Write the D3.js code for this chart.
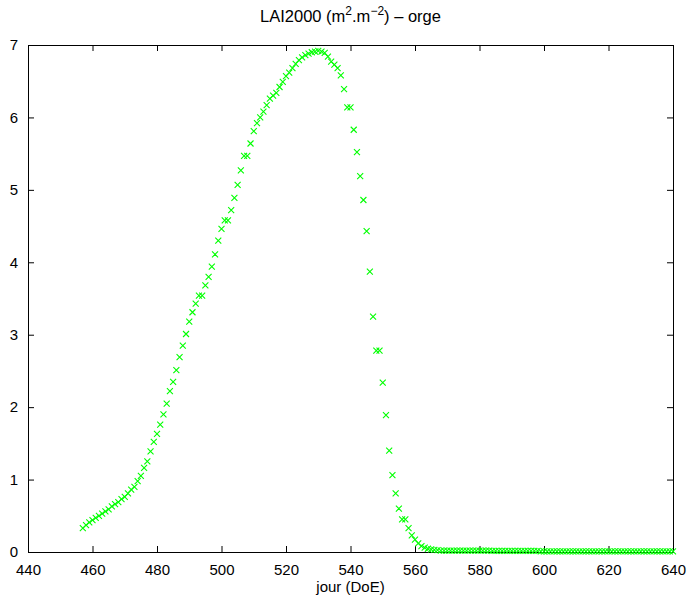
<!DOCTYPE html>
<html>
<head>
<meta charset="utf-8">
<script src="https://cdn.jsdelivr.net/npm/d3@7"></script>
<style>
  body { margin: 0; background: #fff; }
  text { font-family: "Liberation Sans", Arial, sans-serif; }
</style>
</head>
<body>
<div id="chart"></div>
<script>
const width = 692
const height = 604
const margin = {top: 45, right: 19, bottom: 52, left: 28}

// day of experiment, one value per day
const firstDay = 457
const lastDay = 640
const xTicks = [440, 460, 480, 500, 520, 540, 560, 580, 600, 620, 640]
const yTicks = [0, 1, 2, 3, 4, 5, 6, 7]

// LAI values
const laiRise = [0.33, 0.37, 0.41, 0.44, 0.47, 0.50, 0.53, 0.56, 0.59, 0.63,
  0.66, 0.69, 0.73, 0.76, 0.81, 0.86, 0.90, 0.98, 1.05, 1.16,
  1.25, 1.39, 1.52, 1.63, 1.76, 1.90, 2.05, 2.22, 2.35, 2.51,
  2.69, 2.85, 3.01, 3.18, 3.31, 3.43, 3.54, 3.54, 3.68, 3.80,
  3.94, 4.11, 4.30, 4.46, 4.58, 4.58, 4.72, 4.89, 5.07, 5.27,
  5.47, 5.47, 5.64, 5.81, 5.92, 6.00, 6.08, 6.17, 6.26, 6.30,
  6.34, 6.42, 6.49, 6.57, 6.62, 6.68, 6.74, 6.79, 6.83, 6.86]
const laiPeak = [6.88, 6.90, 6.91, 6.92, 6.91, 6.89, 6.84, 6.77, 6.73, 6.68,
  6.58, 6.39, 6.14, 6.14, 5.83, 5.52]
const laiFall = [5.19, 4.86, 4.43, 3.87, 3.25, 2.78, 2.78, 2.34, 1.89, 1.40,
  1.06, 0.81, 0.60, 0.45, 0.45, 0.33, 0.23, 0.17, 0.12, 0.08,
  0.06, 0.045, 0.035, 0.03, 0.025, 0.02]
const laiTail = [0.02, 0.02, 0.02, 0.02, 0.02, 0.02, 0.02, 0.02, 0.02, 0.02,
  0.02, 0.02, 0.02, 0.02, 0.02, 0.015, 0.015, 0.015, 0.015, 0.015,
  0.015, 0.015, 0.015, 0.015, 0.015, 0.015, 0.015, 0.015, 0.015, 0.015,
  0.01, 0.01, 0.01, 0.01, 0.01, 0.01, 0.01, 0.01, 0.01, 0.01,
  0.01, 0.01, 0.01, 0.01, 0.01, 0.01, 0.01, 0.01, 0.01, 0.01,
  0.01, 0.01, 0.01, 0.01, 0.01, 0.01, 0.01, 0.01, 0.01, 0.01,
  0.01, 0.01, 0.01, 0.01, 0.01, 0.01, 0.01, 0.01, 0.01, 0.01,
  0.01, 0.01]

const lai = laiRise.concat(laiPeak, laiFall, laiTail)
const days = d3.range(firstDay, lastDay + 1)
const data = days.map((d, i) => ({day: d, lai: lai[i]}))

const svg = d3.select("#chart").append("svg").attr("width", width).attr("height", height)

const x = d3.scaleLinear().domain([440, 640]).range([margin.left, width - margin.right])
const y = d3.scaleLinear().domain([0, 7]).range([height - margin.bottom, margin.top])

// box + ticks on all four sides, ticks pointing inward
const tickLen = 6
svg.append("g").attr("transform", `translate(0,${height - margin.bottom})`)
  .call(d3.axisBottom(x).tickValues(xTicks).tickSizeInner(-tickLen).tickSizeOuter(0).tickPadding(12))
svg.append("g").attr("transform", `translate(0,${margin.top})`)
  .call(d3.axisTop(x).tickValues(xTicks).tickSizeInner(-tickLen).tickSizeOuter(0).tickFormat(""))
svg.append("g").attr("transform", `translate(${margin.left},0)`)
  .call(d3.axisLeft(y).tickValues(yTicks).tickFormat(d3.format("d")).tickSizeInner(-tickLen).tickSizeOuter(0).tickPadding(10))
svg.append("g").attr("transform", `translate(${width - margin.right},0)`)
  .call(d3.axisRight(y).tickValues(yTicks).tickSizeInner(-tickLen).tickSizeOuter(0).tickFormat(""))

svg.selectAll(".domain").attr("stroke", "#000").attr("stroke-width", 1)
svg.selectAll(".tick line").attr("stroke", "#000")
svg.selectAll(".tick text").attr("font-size", 15).attr("fill", "#000")
  .attr("font-family", "Liberation Sans, Arial, sans-serif")

// x markers
const s = 3
const marks = svg.append("g").attr("stroke", "#00ff00").attr("stroke-width", 1.1).attr("fill", "none")
marks.selectAll("path").data(data).join("path")
  .attr("d", d => {
    const cx = x(d.day), cy = y(d.lai)
    return `M${cx - s},${cy - s}L${cx + s},${cy + s}M${cx - s},${cy + s}L${cx + s},${cy - s}`
  })

// title with superscripts
const title = svg.append("text").attr("x", (margin.left + width - margin.right) / 2).attr("y", 22)
  .attr("text-anchor", "middle").attr("font-size", 16.5)
title.append("tspan").text("LAI2000 (m")
title.append("tspan").attr("dy", -7).attr("font-size", 12).text("2")
title.append("tspan").attr("dy", 7).text(".m")
title.append("tspan").attr("dy", -7).attr("font-size", 12).text("−2")
title.append("tspan").attr("dy", 7).text(") – orge")

svg.append("text").attr("x", (margin.left + width - margin.right) / 2).attr("y", 592)
  .attr("text-anchor", "middle").attr("font-size", 15).text("jour (DoE)")
</script>
</body>
</html>
